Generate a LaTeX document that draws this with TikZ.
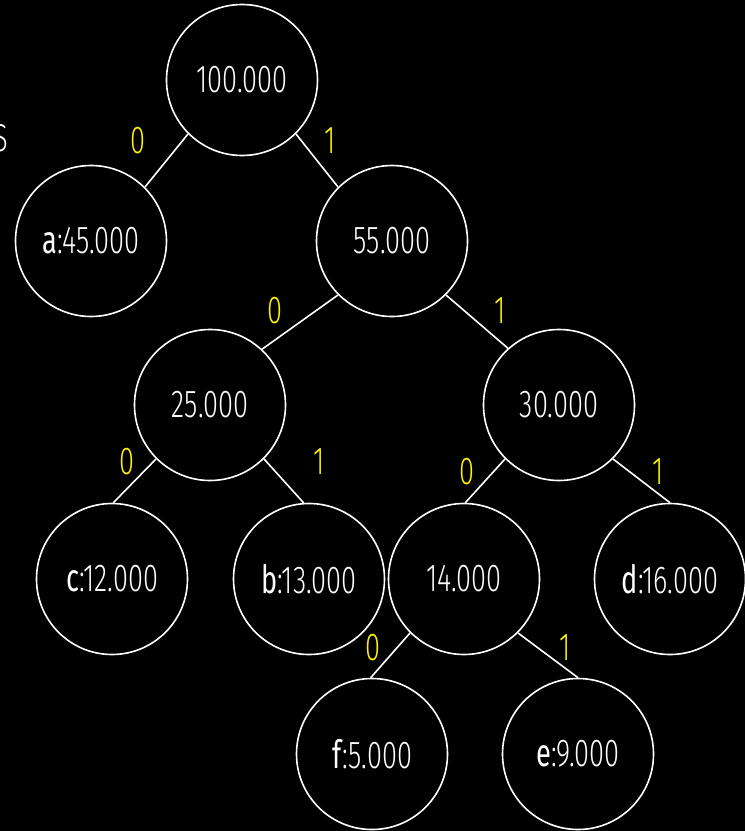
\documentclass[tikz,border=0pt]{standalone}
\usepackage{fontspec}
\setmainfont{Fira Sans}[UprightFont=* Light, BoldFont=*, FakeStretch=0.7]
\begin{document}
\begin{tikzpicture}[x=1bp,y=-1bp,
  treenode/.style={circle,draw=white,line width=1.6bp,minimum size=151bp,inner sep=0pt,
    text=white,font=\fontsize{39}{40}\selectfont},
  edge/.style={draw=white,line width=1.6bp},
  bitlabel/.style={text=yellow,font=\fontsize{39}{40}\selectfont,inner sep=0pt}]
\fill[black] (0,0) rectangle (745,831);
\useasboundingbox (0,0) rectangle (745,831);
% tree nodes
\node[treenode] (root) at (242,80) {100.000};
\node[treenode] (a) at (91,241) {\textbf{a}:45.000};
\node[treenode] (n55) at (392,241) {55.000};
\node[treenode] (n25) at (210,405) {25.000};
\node[treenode] (n30) at (559,405) {30.000};
\node[treenode] (c) at (112,579) {\textbf{c}:12.000};
\node[treenode] (b) at (309,579) {\textbf{b}:13.000};
\node[treenode] (n14) at (464,579) {14.000};
\node[treenode] (d) at (670,579) {\textbf{d}:16.000};
\node[treenode] (f) at (372,754) {\textbf{f}:5.000};
\node[treenode] (e) at (578,754) {\textbf{e}:9.000};
% connectors: from the parent's lower diagonal point to the child's rim
\path[edge] (root.south west) -- (a.45);
\path[edge] (root.south east) -- (n55.135);
\path[edge] (n55.south west) -- (n25.47);
\path[edge] (n55.south east) -- (n30.132);
\path[edge] (n25.south west) -- (c.89);
\path[edge] (n25.south east) -- (b.94);
\path[edge] (n30.south west) -- (n14.89);
\path[edge] (n30.south east) -- (d.90);
\path[edge] (n14.south west) -- (f.91);
\path[edge] (n14.south east) -- (e.90);
% bit labels
\node[bitlabel] (l1) at (138,141) {0};
\node[bitlabel] (l2) at (330,141) {1};
\node[bitlabel] (l3) at (275,311) {0};
\node[bitlabel] (l4) at (500,311) {1};
\node[bitlabel] (l5) at (127,462) {0};
\node[bitlabel] (l6) at (319,462) {1};
\node[bitlabel] (l7) at (467,472) {0};
\node[bitlabel] (l8) at (658,472) {1};
\node[bitlabel] (l9) at (373,648) {0};
\node[bitlabel] (l10) at (565,648) {1};
% caption fragment running off the left edge
\begin{scope}
\clip (0,0) rectangle (745,831);
\node[text=white,font=\fontsize{39}{40}\selectfont,inner sep=0pt,anchor=east] (cap) at (8,138) {S};
\end{scope}
\end{tikzpicture}
\end{document}
